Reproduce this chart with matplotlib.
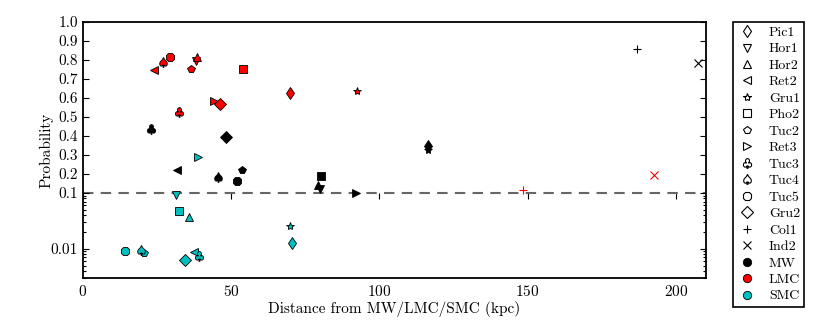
import numpy as np
import matplotlib
matplotlib.use("Agg")
import matplotlib.pyplot as plt
from matplotlib.lines import Line2D

plt.rcParams['font.family'] = ['cmr10', 'DejaVu Serif']
plt.rcParams['axes.formatter.use_mathtext'] = True
plt.rcParams['mathtext.fontset'] = 'cm'

names = ["Pic1", "Hor1", "Hor2", "Ret2", "Gru1", "Pho2", "Tuc2", "Ret3",
         "Tuc3", "Tuc4", "Tuc5", "Gru2", "Col1", "Ind2"]
markers = ["d", "v", "^", "<", "*", "s", "p", ">",
           r"$\clubsuit$", r"$\spadesuit$", "8", "D", "+", "x"]

dist_mw = [116.5, 79.9, 79.3, 31.7, 116.4, 80.2, 53.7, 92.0, 23.0, 45.6, 51.9, 48.4, 186.7, 207.3]
prob_mw = [0.35, 0.12, 0.14, 0.223, 0.325, 0.19, 0.223, 0.102, 0.436, 0.183, 0.165, 0.394, 0.86, 0.782]

dist_lmc = [69.8, 38.2, 38.4, 24.0, 92.6, 54.2, 36.5, 44.3, 32.4, 27.0, 29.4, 46.3, 148.3, 192.7]
prob_lmc = [0.626, 0.793, 0.814, 0.747, 0.638, 0.752, 0.752, 0.585, 0.525, 0.79, 0.814, 0.568, 0.116, 0.195]

dist_smc = [70.5, 31.5, 35.7, 37.6, 69.8, 32.6, 20.7, 38.8, 39.3, 19.5, 14.3, 34.5, None, None]
prob_smc = [0.0129, 0.091, 0.037, 0.0089, 0.0252, 0.0475, 0.0085, 0.29, 0.0074, 0.0094, 0.0092, 0.0062, None, None]

hosts = ["MW", "LMC", "SMC"]
host_colors = ["k", "r", "c"]

threshold = 0.1
major_ticks = [0.01, 0.1, 0.2, 0.3, 0.4, 0.5, 0.6, 0.7, 0.8, 0.9, 1.0]
major_labels = ["0.01", "0.1", "0.2", "0.3", "0.4", "0.5", "0.6", "0.7", "0.8", "0.9", "1.0"]
minor_ticks = [0.003, 0.004, 0.005, 0.006, 0.007, 0.008, 0.009,
               0.02, 0.03, 0.04, 0.05, 0.06, 0.07, 0.08, 0.09]
x_ticks = [0, 50, 100, 150, 200]

K = 0.2936  # height of one log decade relative to linear units


def fwd(y):
    y = np.asarray(y, dtype=float)
    ys = np.clip(y, 1e-12, None)
    return np.where(ys >= threshold, ys, threshold + K * np.log10(ys / threshold))


def inv(u):
    u = np.asarray(u, dtype=float)
    return np.where(u >= threshold, u, threshold * 10 ** ((u - threshold) / K))


fig = plt.figure(figsize=(8.3, 3.27), dpi=100)
ax = fig.add_axes([0.0996, 0.1498, 0.7506, 0.7829])
ax.set_yscale('function', functions=(fwd, inv))

ymin, ymax = 0.003, 1.0
ax.set_xlim(0, 210)
ax.set_ylim(ymin, ymax)

ax.axhline(threshold, color='0.4', ls=(0, (5, 3.5)), lw=1.5, zorder=1)

series = [(dist_mw, prob_mw), (dist_lmc, prob_lmc), (dist_smc, prob_smc)]
for (dists, probs), col in zip(series, host_colors):
    for d, p, m in zip(dists, probs, markers):
        if d is None:
            continue
        if m in ("+", "x"):
            ax.plot([d], [p], marker=m, color=col, ms=6, mew=0.8, ls='none', zorder=3)
        else:
            ms = 7 if m.startswith("$") else 6
            ax.plot([d], [p], marker=m, mfc=col, mec='k', mew=0.6, ms=ms,
                    ls='none', zorder=3)

ax.set_yticks(major_ticks)
ax.set_yticklabels(major_labels)
ax.set_yticks(minor_ticks, minor=True)
ax.set_xticks(x_ticks)
ax.tick_params(axis='y', which='both', direction='in', left=True, right=True, labelsize=11)
ax.tick_params(axis='y', which='major', length=4.5, width=0.8)
ax.tick_params(axis='y', which='minor', length=2.5, width=0.8)
ax.tick_params(axis='x', which='both', direction='in', length=0, labelsize=11, pad=4)
ax.xaxis.set_minor_locator(matplotlib.ticker.NullLocator())
for s in ax.spines.values():
    s.set_linewidth(1.3)

frac = float((fwd(threshold) - fwd(ymin)) / (fwd(ymax) - fwd(ymin)))
sec = ax.secondary_xaxis(frac)
sec.set_xticks(x_ticks)
sec.tick_params(axis='x', direction='out', length=4.5, width=0.8, labelbottom=False, labeltop=False)
for s in sec.spines.values():
    s.set_visible(False)

ax.set_xlabel("Distance from MW/LMC/SMC (kpc)", fontsize=11, labelpad=2)
ax.set_ylabel("Probability", fontsize=11, labelpad=-2)

handles = []
for n, m in zip(names, markers):
    if m in ("+", "x"):
        h = Line2D([], [], marker=m, color='k', ls='none', ms=6, mew=0.8, label=n)
    else:
        ms = 7 if m.startswith("$") else 6
        h = Line2D([], [], marker=m, mfc='w', mec='k', mew=0.8, ls='none', ms=ms, label=n)
    handles.append(h)
for hname, col in zip(hosts, host_colors):
    handles.append(Line2D([], [], marker='o', mfc=col, mec='k', mew=0.6, ls='none', ms=6, label=hname))

leg = fig.legend(handles=handles, loc='upper left', bbox_to_anchor=(0.8828, 0.9327),
                 fontsize=10, numpoints=1, fancybox=False, framealpha=1,
                 edgecolor='k', handlelength=1.5, handletextpad=0.8,
                 labelspacing=0.27, borderpad=0.3, borderaxespad=0)
leg.get_frame().set_linewidth(1.2)

fig.savefig("out.png", dpi=100)
